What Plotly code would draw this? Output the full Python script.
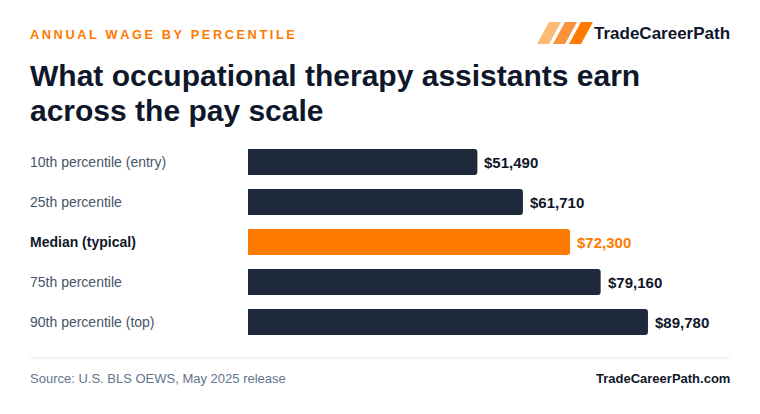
import plotly.graph_objects as go

categories = ["10th percentile (entry)", "25th percentile", "Median (typical)", "75th percentile", "90th percentile (top)"]
wages = [51490, 61710, 72300, 79160, 89780]
wage_labels = ["$51,490", "$61,710", "$72,300", "$79,160", "$89,780"]
highlight = [False, False, True, False, False]

W, H = 760, 414
NAVY = "#1e293b"
ORANGE = "#ff7a00"
DARK = "#0f172a"
FONT = "Liberation Sans, Arial, sans-serif"

def px(x):
    return x / W

def py(y):
    return 1 - y / H

bar_colors = [ORANGE if h else NAVY for h in highlight]

fig = go.Figure(go.Bar(
    x=wages, y=categories, orientation="h",
    marker=dict(color=bar_colors, line=dict(width=0)),
    width=0.65, hoverinfo="skip",
))

x0_pix, x1_pix = 248, 693.5
fig.update_layout(
    width=W, height=H,
    margin=dict(l=0, r=0, t=0, b=0),
    paper_bgcolor="white", plot_bgcolor="white",
    showlegend=False,
    barcornerradius=3,
    font=dict(family=FONT),
    xaxis=dict(domain=[px(x0_pix), px(x1_pix)], range=[0, 100000], visible=False, fixedrange=True),
    yaxis=dict(domain=[py(342), py(142)], categoryorder="array", categoryarray=categories,
               autorange="reversed", visible=False, fixedrange=True),
)

ann = []

def add(**kw):
    kw.setdefault("showarrow", False)
    kw.setdefault("borderpad", 0)
    kw.setdefault("borderwidth", 0)
    ann.append(kw)

for c, v, lab, h in zip(categories, wages, wage_labels, highlight):
    add(xref="paper", yref="y", x=px(30), y=c, text=(f"<b>{c}</b>" if h else c),
        xanchor="left", yanchor="middle",
        font=dict(size=14, color=DARK if h else "#475569", family=FONT))
    add(xref="x", yref="y", x=v, y=c, text=f"<b>{lab}</b>", xshift=7,
        xanchor="left", yanchor="middle",
        font=dict(size=15, color=ORANGE if h else DARK, family=FONT))

kicker = "\u2009".join(list("ANNUAL WAGE BY PERCENTILE"))
add(xref="paper", yref="paper", x=px(30), y=py(34), text=f"<b>{kicker}</b>",
    xanchor="left", yanchor="middle", font=dict(size=12.8, color=ORANGE, family=FONT))
add(xref="paper", yref="paper", x=px(30), y=py(75),
    text="<b>What occupational therapy assistants earn</b>",
    xanchor="left", yanchor="middle", font=dict(size=30, color=DARK, family=FONT))
add(xref="paper", yref="paper", x=px(30), y=py(110),
    text="<b>across the pay scale</b>",
    xanchor="left", yanchor="middle", font=dict(size=30, color=DARK, family=FONT))
add(xref="paper", yref="paper", x=px(730), y=py(33), text="<b>TradeCareerPath</b>",
    xanchor="right", yanchor="middle", font=dict(size=17, color=DARK, family=FONT))
add(xref="paper", yref="paper", x=px(30), y=py(378), text="Source: U.S. BLS OEWS, May 2025 release",
    xanchor="left", yanchor="middle", font=dict(size=13, color="#64748b", family=FONT))
add(xref="paper", yref="paper", x=px(730), y=py(378), text="<b>TradeCareerPath.com</b>",
    xanchor="right", yanchor="middle", font=dict(size=13, color=DARK, family=FONT))
fig.update_layout(annotations=ann)

shapes = [dict(type="line", xref="paper", yref="paper", x0=px(30), x1=px(730), y0=py(358), y1=py(358),
               line=dict(color="#e2e8f0", width=1))]
logo_colors = ["#fdba74", "#fb923c", "#ff7a00"]
for i, col in enumerate(logo_colors):
    bx = 537 + i * 16
    pts = [(bx, 44), (bx + 12, 44), (bx + 24, 22), (bx + 12, 22)]
    path = "M " + " L ".join(f"{px(a):.5f},{py(b):.5f}" for a, b in pts) + " Z"
    shapes.append(dict(type="path", xref="paper", yref="paper", path=path,
                       fillcolor=col, line=dict(width=0)))
fig.update_layout(shapes=shapes)

fig.write_html("out.html", config={"displayModeBar": False})
